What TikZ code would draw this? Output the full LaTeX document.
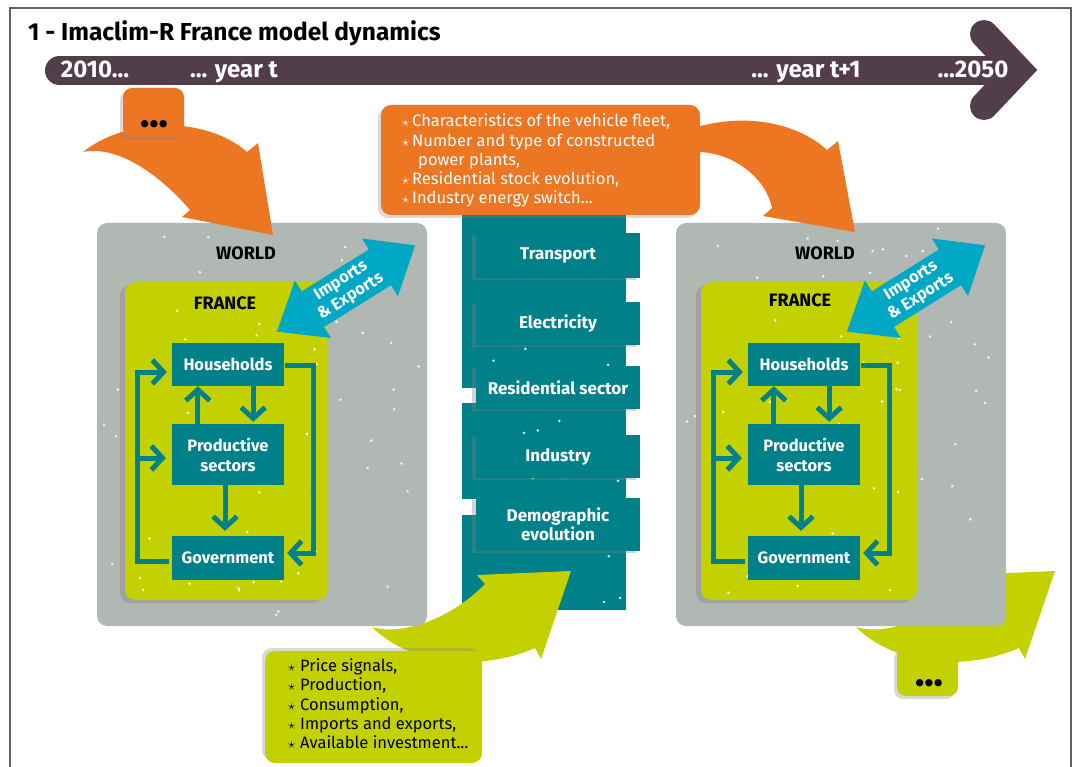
\documentclass[tikz,border=0pt]{standalone}
\usepackage{fontspec}
\setmainfont{Fira Sans}
\newfontfamily\dejavu{DejaVu Sans}
\usetikzlibrary{arrows.meta,shadows}
\definecolor{orangeC}{HTML}{EC7622}
\definecolor{purpleC}{HTML}{523D4A}
\definecolor{tealC}{HTML}{00818A}
\definecolor{cyanC}{HTML}{00A8C6}
\definecolor{greenC}{HTML}{C4D100}
\definecolor{grayC}{RGB}{177,183,179}
\newcommand{\strbul}[1]{\makebox[#1][l]{\fontsize{15}{15}\selectfont$\star$}}
\newcommand{\threedots}{•\kern-5.5pt•\kern-5.5pt•}
\begin{document}
\begin{tikzpicture}[x=1pt,y=-1pt,
  inbox/.style={fill=tealC, text=white, font=\bfseries\fontsize{16.5}{20}\selectfont, minimum width=112pt, inner sep=0pt, align=center},
  colbox/.style={fill=tealC, text=white, font=\bfseries\fontsize{17}{20}\selectfont, minimum width=164pt, inner sep=0pt, align=center, drop shadow={shadow xshift=-4pt, shadow yshift=-2pt, opacity=0.35}},
  flow/.style={draw=tealC, line width=5pt, -{Straight Barb[length=11pt,width=24pt]}},
  lbl/.style={font=\bfseries\fontsize{18}{20}\selectfont, inner sep=0pt},
  itemtxt/.style={anchor=base west, inner sep=0pt, font=\fontsize{16.5}{19}\selectfont},
  tl/.style={text=white, font=\bfseries\fontsize{24}{28}\selectfont, anchor=base, inner sep=0pt},
  dots/.style={font=\dejavu\fontsize{25}{25}\selectfont, inner sep=0pt, anchor=base},
  softshadow/.style={drop shadow={shadow xshift=-3pt, shadow yshift=-3pt, opacity=0.3}},
  speck/.style={fill=white, opacity=0.85},
]
\useasboundingbox (0,0) rectangle (1076,767);
\pgfmathsetseed{4217}
% frame
\draw[purpleC!85, line width=1.3pt] (10,767) -- (10,8) -- (1071,8) -- (1071,767);
% title
\node[anchor=base west, inner sep=0pt, font=\bfseries\fontsize{24.5}{28}\selectfont] (title) at (28,41) {1 - Imaclim-R France model dynamics};
% timeline
\draw[purpleC, line width=29pt, line cap=round] (59.5,70.5) -- (1000,70.5);
\draw[purpleC, line width=28pt, line cap=round, line join=miter, miter limit=10] (984,34) -- (1018,70) -- (984,106);
\node[tl] (t0) at (95,78) {2010...};
\node[tl] (t1) at (234,78) {... year t};
\node[tl] (t2) at (806,78) {... year t+1};
\node[tl] (t3) at (973,78) {...2050};

% teal column
\fill[tealC] (462,215) rectangle (626,388);
\fill[tealC] (462,403) rectangle (626,499);
\fill[tealC] (462,515) rectangle (626,610);
\foreach \i in {1,...,26}{
  \pgfmathsetmacro{\px}{466+156*rnd}\pgfmathsetmacro{\py}{220+385*rnd}
  \fill[speck] (\px,\py) circle (1.4pt);
}
\node[colbox, minimum height=45pt] (tra) at (558,255.5) {Transport};
\node[colbox, minimum height=43pt] (ele) at (558,323.5) {Electricity};
\node[colbox, minimum height=43pt] (res) at (558,387.5) {Residential sector};
\node[colbox, minimum height=43pt] (ind) at (558,456.5) {Industry};
\node[colbox, minimum height=53pt] (dem) at (558,524.5) {Demographic\\[-1pt]evolution};

% green arrows (under world boxes)
\foreach \dx in {0,484}{
  \begin{scope}[xshift=\dx pt]
  \fill[greenC] (372,627) .. controls (400,636) and (450,620) .. (485,584) -- (477,575) -- (571,571) -- (541,659) -- (535,648) .. controls (480,672) and (410,665) .. cycle;
  \end{scope}
}

% world boxes
\foreach \wx in {97,676}{
  \fill[grayC, rounded corners=10pt] (\wx,223) rectangle (\wx+330,626);
  \foreach \i in {1,...,55}{
    \pgfmathsetmacro{\px}{\wx+6+318*rnd}\pgfmathsetmacro{\py}{228+392*rnd}
    \fill[speck] (\px,\py) circle (1.4pt);
  }
}
\node[lbl] (w1) at (246,253) {WORLD};
\node[lbl] (w2) at (825,253) {WORLD};
% france boxes
\fill[greenC, rounded corners=10pt, drop shadow={shadow xshift=-5pt, shadow yshift=-3pt, opacity=0.35}] (125,282) rectangle (328,600);
\fill[greenC, rounded corners=10pt, drop shadow={shadow xshift=-5pt, shadow yshift=-3pt, opacity=0.35}] (701,282) rectangle (917,600);
\foreach \fx/\fw in {125/203,701/216}{
  \foreach \i in {1,...,30}{
    \pgfmathsetmacro{\px}{\fx+6+(\fw-12)*rnd}\pgfmathsetmacro{\py}{288+306*rnd}
    \fill[speck] (\px,\py) circle (1.4pt);
  }
}
\node[lbl] (f1) at (225,303) {FRANCE};
\node[lbl] (f2) at (800,300) {FRANCE};

% imports/exports arrows
\foreach \cx in {346,916}{
  \begin{scope}[shift={(\cx,288.5)}, rotate=32]
  \fill[cyanC] (81.5,0) -- (40,-34) -- (40,-21) -- (-39,-21) -- (-39,-34) -- (-81.5,0) -- (-39,34) -- (-39,21) -- (40,21) -- (40,34) -- cycle;
  \end{scope}
}
\node[rotate=32, text=white, align=center, inner sep=0pt, font=\bfseries\fontsize{16.5}{18.5}\selectfont] (ie1) at (346,289) {Imports\\\& Exports};
\node[rotate=32, text=white, align=center, inner sep=0pt, font=\bfseries\fontsize{16.5}{18.5}\selectfont] (ie2) at (916,289) {Imports\\\& Exports};

% inner economy boxes, left and right
\foreach \s/\n in {0/L,576/R}{
  \node[inbox, minimum height=43pt] (H\n) at (228+\s,364.5) {Households};
  \node[inbox, minimum height=61pt] (P\n) at (228+\s,454.5) {Productive\\sectors};
  \node[inbox, minimum height=44pt] (G\n) at (228+\s,558) {Government};
  \draw[flow] ([xshift=26pt]P\n.north west) -- ([xshift=26pt]H\n.south west);
  \draw[flow] ([xshift=-31pt]H\n.south east) -- ([xshift=-31pt,yshift=2pt]P\n.north east);
  \draw[flow] ([xshift=-3pt]P\n.south) -- ([xshift=-3pt,yshift=5pt]G\n.north);
  \draw[flow] ([xshift=1pt,yshift=-0.5pt]H\n.east) -- ++(28,0) |- ([xshift=3pt,yshift=5pt]G\n.east);
  \draw[flow] ([xshift=-3pt,yshift=-3pt]G\n.west) -- ++(-31,0) |- ([xshift=-5pt,yshift=-7.5pt]H\n.west);
  \draw[flow] ([xshift=-34pt,yshift=-3.5pt]P\n.west) -- ([xshift=-6pt,yshift=-3.5pt]P\n.west);
}

% orange arrows
\fill[orangeC] (83,152) .. controls (125,118) and (205,115) .. (247,152) -- (258,143) -- (273,235) -- (182,217) -- (190,210) .. controls (160,175) and (118,145) .. cycle;
\fill[orangeC] (690,127) -- (697,127) .. controls (750,112) and (800,125) .. (827,150) -- (838,141) -- (855,232) -- (763,216) -- (772,208) .. controls (765,175) and (730,152) .. (697,152) -- (690,152) -- cycle;

% orange text box
\fill[orangeC, rounded corners=10pt, softshadow] (381,105) rectangle (700,215);
\begin{scope}[text=white]
\node[itemtxt] (o1) at (402,127) {\strbul{10pt}Characteristics of the vehicle fleet,};
\node[itemtxt] (o2) at (402,146.5) {\strbul{10pt}Number and type of constructed};
\node[itemtxt] (o3) at (418,165.5) {power plants,};
\node[itemtxt] (o4) at (402,185) {\strbul{10pt}Residential stock evolution,};
\node[itemtxt] (o5) at (402,204) {\strbul{10pt}Industry energy switch...};
\end{scope}

% small dots boxes
\fill[orangeC, rounded corners=9pt, softshadow] (123,88) rectangle (184,137);
\node[dots] (d1) at (154,134) {\threedots};
\fill[greenC, rounded corners=9pt, softshadow] (897,647) rectangle (958,696);
\node[dots] (d2) at (929,692) {\threedots};

% green text box
\fill[greenC, rounded corners=10pt, drop shadow={shadow xshift=-3pt, shadow yshift=3pt, opacity=0.3}] (265,651) rectangle (482,763);
\node[itemtxt] (g1) at (288,671) {\strbul{12pt}Price signals,};
\node[itemtxt] (g2) at (288,690) {\strbul{12pt}Production,};
\node[itemtxt] (g3) at (288,710) {\strbul{12pt}Consumption,};
\node[itemtxt] (g4) at (288,729) {\strbul{12pt}Imports and exports,};
\node[itemtxt] (g5) at (288,748) {\strbul{12pt}Available investment...};
\end{tikzpicture}
\end{document}
